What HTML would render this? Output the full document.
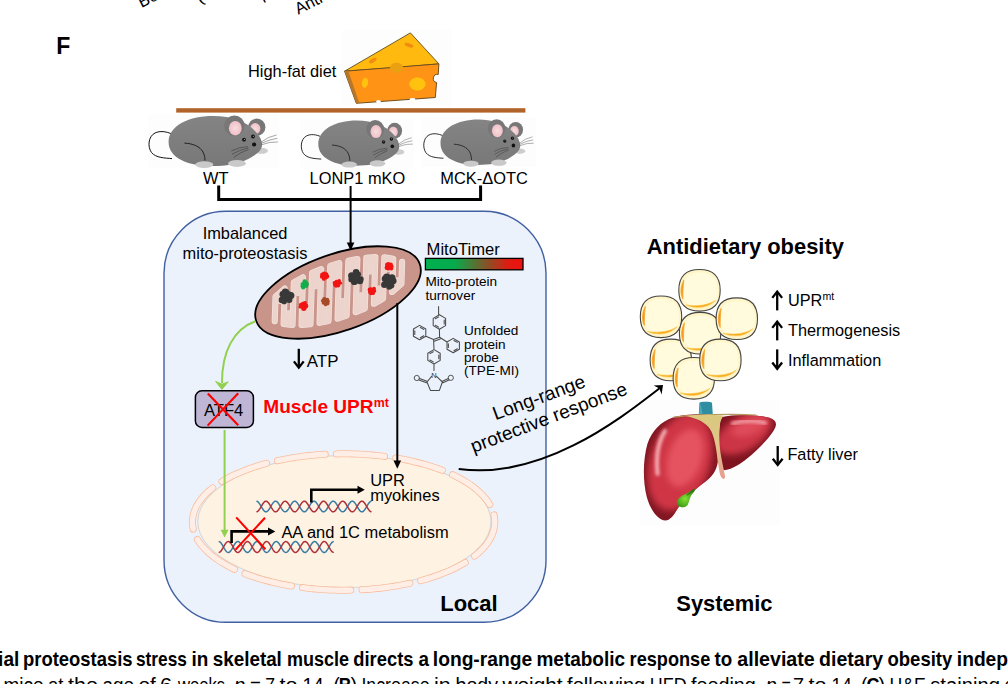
<!DOCTYPE html>
<html lang="en"><head><meta charset="utf-8"><title>Figure F</title>
<style>
html,body{margin:0;padding:0;background:#fff;}
body{width:1008px;height:684px;overflow:hidden;font-family:"Liberation Sans",sans-serif;}
svg{display:block;}
</style></head><body>
<svg width="1008" height="684" viewBox="0 0 1008 684">
<defs>
<linearGradient id="gbar" x1="0" x2="1" y1="0" y2="0">
  <stop offset="0" stop-color="#00b050"/><stop offset="0.3" stop-color="#06ab4c"/>
  <stop offset="0.6" stop-color="#7a5a2a"/><stop offset="0.85" stop-color="#e01b12"/><stop offset="1" stop-color="#ee1111"/>
</linearGradient>
<radialGradient id="gfat" cx="0.55" cy="0.45" r="0.6">
  <stop offset="0" stop-color="#fffbe0"/><stop offset="0.7" stop-color="#fff5c4"/><stop offset="1" stop-color="#ffedA0"/>
</radialGradient>
<radialGradient id="gliv" cx="0.4" cy="0.45" r="0.65">
  <stop offset="0" stop-color="#ee5c68"/><stop offset="0.55" stop-color="#d63f4c"/><stop offset="0.85" stop-color="#b52a38"/><stop offset="1" stop-color="#8e1c28"/>
</radialGradient>
<radialGradient id="gliv2" cx="0.45" cy="0.35" r="0.7">
  <stop offset="0" stop-color="#f06a72"/><stop offset="0.5" stop-color="#d63f4c"/><stop offset="0.85" stop-color="#a82432"/><stop offset="1" stop-color="#7c1420"/>
</radialGradient>
<linearGradient id="glig" x1="0" x2="0" y1="0" y2="1">
  <stop offset="0" stop-color="#d9c97e"/><stop offset="0.45" stop-color="#e2c58a"/><stop offset="1" stop-color="#e79c8e"/>
</linearGradient>
<radialGradient id="ggall" cx="0.45" cy="0.55" r="0.6">
  <stop offset="0" stop-color="#86e038"/><stop offset="0.6" stop-color="#4fae1c"/><stop offset="1" stop-color="#2f7f10"/>
</radialGradient>
<linearGradient id="gmouse" x1="0" x2="0" y1="0" y2="1">
  <stop offset="0" stop-color="#848484"/><stop offset="1" stop-color="#787878"/>
</linearGradient>
<radialGradient id="gear" cx="0.5" cy="0.5" r="0.6">
  <stop offset="0" stop-color="#f7dede"/><stop offset="1" stop-color="#eeb9c4"/>
</radialGradient>
<filter id="blur0" x="-20%" y="-30%" width="140%" height="160%"><feGaussianBlur stdDeviation="0.6"/></filter>
<filter id="blur1" x="-20%" y="-20%" width="140%" height="140%"><feGaussianBlur stdDeviation="1.2"/></filter>
<filter id="blur3" x="-40%" y="-40%" width="180%" height="180%"><feGaussianBlur stdDeviation="3.2"/></filter>
<filter id="blur2b" x="-60%" y="-60%" width="220%" height="220%"><feGaussianBlur stdDeviation="1.7"/></filter>
<filter id="blur2" x="-30%" y="-30%" width="160%" height="160%"><feGaussianBlur stdDeviation="2.5"/></filter>
</defs>
<g font-family="'Liberation Sans', sans-serif" font-size="16.5" fill="#000">
<text transform="translate(141.4,8.0) rotate(-27)" text-anchor="start">Bo</text>
<text transform="translate(199.8,3.4) rotate(-27)" text-anchor="start">(s)</text>
<text transform="translate(262,0.2) rotate(-27)" text-anchor="start">p</text>
<text transform="translate(298.2,14.8) rotate(-27)" text-anchor="start">Anti</text>
</g>
<text x="56.3" y="53.6" font-family="'Liberation Sans', sans-serif" font-weight="bold" font-size="23" fill="#000">F</text>
<g fill="#fdfdfd"><rect x="342" y="30" width="110" height="76"/><rect x="148" y="114" width="131" height="54"/><rect x="300" y="119" width="114" height="49"/><rect x="421" y="117" width="115" height="50"/><rect x="640" y="400" width="140" height="125"/></g>
<g id="cheese">
<path d="M344.6 71.2 L410.4 32.9 L438.9 63.9 L396 67.6 Z" fill="#ffb90f" stroke="#6e5a22" stroke-width="1" stroke-linejoin="round"/>
<path d="M344.6 71.2 L438.9 63.9 L438.2 74.5 A3.2 3.2 0 0 0 436.6 82.5 L435.3 97.5 L356.3 103.3 Z" fill="#ff9315" stroke="#6e5020" stroke-width="1" stroke-linejoin="round"/>
<path d="M344.6 71.2 L348.4 71 L359.2 102.8 L356.3 103.3 Z" fill="#b8772a"/>
<ellipse cx="372.8" cy="60.6" rx="4.2" ry="2" transform="rotate(-32 372.8 60.6)" fill="#f08c10"/>
<ellipse cx="409" cy="45.2" rx="4.6" ry="1.9" transform="rotate(18 409 45.2)" fill="#f08c10"/>
<ellipse cx="396.6" cy="67.8" rx="6.6" ry="5" fill="#e9a012"/>
<ellipse cx="365" cy="82.7" rx="3.1" ry="5" transform="rotate(8 365 82.7)" fill="#ffc20e"/>
<ellipse cx="417.4" cy="84" rx="8.2" ry="6.5" fill="#ffc20e"/>
<ellipse cx="378.5" cy="101.6" rx="2.4" ry="1.6" fill="#fff"/>
<ellipse cx="412.5" cy="99.3" rx="3" ry="1.3" fill="#fff"/>
</g>
<text x="248" y="77.2" font-family="'Liberation Sans', sans-serif" font-size="16.4" fill="#000">High-fat diet</text>
<rect x="176.2" y="108.2" width="349.2" height="4.4" fill="#b0642a"/>
<g transform="">
<path d="M171.5 133.8 C166 131.5 160 130.6 155 133 C148 136.5 147.5 147 151.5 152.5 C156 158 165 158 172 158.6" fill="none" stroke="#111" stroke-width="1"/>
<ellipse cx="261.5" cy="150.8" rx="6.5" ry="3" fill="#cdcdcd" filter="url(#blur0)"/>
<circle cx="256.8" cy="127.2" r="8.6" fill="#777"/>
<ellipse cx="255.2" cy="128.6" rx="5.2" ry="5.6" fill="url(#gear)"/>
<path d="M168.6 142 C168.6 126 188 116 213 116 C232 116 247 122 255 131 C260 136 262.5 141 262 146 C261 152 254 156 246 160 C238 164 226 166 212 166 C188 166 168.6 158 168.6 142 Z" fill="url(#gmouse)"/>
<circle cx="234.4" cy="125.8" r="10.3" fill="#777"/>
<ellipse cx="235.3" cy="128.2" rx="6.4" ry="7.2" fill="url(#gear)"/>
<path d="M184.4 143.1 C193 143.5 200 146.5 203 152 C204.5 155 205 158 205 160.6" fill="none" stroke="#222" stroke-width="1"/>
<ellipse cx="204.3" cy="164.6" rx="9" ry="3.3" fill="#c9c9c9" filter="url(#blur0)"/>
<ellipse cx="237" cy="163.4" rx="9" ry="3.5" fill="#c9c9c9" filter="url(#blur0)"/>
<circle cx="244" cy="139.7" r="1.9" fill="#111"/><circle cx="244.3" cy="139.4" r="0.5" fill="#ddd"/>
<circle cx="253" cy="136.5" r="1.9" fill="#111"/><circle cx="253.3" cy="136.2" r="0.5" fill="#ddd"/>
<circle cx="254.1" cy="144.5" r="2.1" fill="#111"/>
<g fill="none" stroke="#6a6a6a" stroke-width="0.6">
<path d="M260.6 142.5 Q268 136.5 276.5 135"/><path d="M261 143.5 Q269 139.5 277.3 138.3"/><path d="M261.3 144.8 Q270 141.5 277.8 142"/>
</g>
<g fill="none" stroke="#4a4a4a" stroke-width="0.75">
<path d="M248 146.6 Q239 147 231.3 151"/><path d="M248.3 148 Q239 150 232 154.2"/><path d="M248.6 149.4 Q240 152.5 233.6 157.4"/>
</g>
</g>
<g transform="translate(172.29,15.40) scale(0.866,0.906)">
<path d="M171.5 133.8 C166 131.5 160 130.6 155 133 C148 136.5 147.5 147 151.5 152.5 C156 158 165 158 172 158.6" fill="none" stroke="#111" stroke-width="1"/>
<ellipse cx="261.5" cy="150.8" rx="6.5" ry="3" fill="#cdcdcd" filter="url(#blur0)"/>
<circle cx="256.8" cy="127.2" r="8.6" fill="#777"/>
<ellipse cx="255.2" cy="128.6" rx="5.2" ry="5.6" fill="url(#gear)"/>
<path d="M168.6 142 C168.6 126 188 116 213 116 C232 116 247 122 255 131 C260 136 262.5 141 262 146 C261 152 254 156 246 160 C238 164 226 166 212 166 C188 166 168.6 158 168.6 142 Z" fill="url(#gmouse)"/>
<circle cx="234.4" cy="125.8" r="10.3" fill="#777"/>
<ellipse cx="235.3" cy="128.2" rx="6.4" ry="7.2" fill="url(#gear)"/>
<path d="M184.4 143.1 C193 143.5 200 146.5 203 152 C204.5 155 205 158 205 160.6" fill="none" stroke="#222" stroke-width="1"/>
<ellipse cx="204.3" cy="164.6" rx="9" ry="3.3" fill="#c9c9c9" filter="url(#blur0)"/>
<ellipse cx="237" cy="163.4" rx="9" ry="3.5" fill="#c9c9c9" filter="url(#blur0)"/>
<circle cx="244" cy="139.7" r="1.9" fill="#111"/><circle cx="244.3" cy="139.4" r="0.5" fill="#ddd"/>
<circle cx="253" cy="136.5" r="1.9" fill="#111"/><circle cx="253.3" cy="136.2" r="0.5" fill="#ddd"/>
<circle cx="254.1" cy="144.5" r="2.1" fill="#111"/>
<g fill="none" stroke="#6a6a6a" stroke-width="0.6">
<path d="M260.6 142.5 Q268 136.5 276.5 135"/><path d="M261 143.5 Q269 139.5 277.3 138.3"/><path d="M261.3 144.8 Q270 141.5 277.8 142"/>
</g>
<g fill="none" stroke="#4a4a4a" stroke-width="0.75">
<path d="M248 146.6 Q239 147 231.3 151"/><path d="M248.3 148 Q239 150 232 154.2"/><path d="M248.6 149.4 Q240 152.5 233.6 157.4"/>
</g>
</g>
<g transform="translate(296.68,14.27) scale(0.853,0.908)">
<path d="M171.5 133.8 C166 131.5 160 130.6 155 133 C148 136.5 147.5 147 151.5 152.5 C156 158 165 158 172 158.6" fill="none" stroke="#111" stroke-width="1"/>
<ellipse cx="261.5" cy="150.8" rx="6.5" ry="3" fill="#cdcdcd" filter="url(#blur0)"/>
<circle cx="256.8" cy="127.2" r="8.6" fill="#777"/>
<ellipse cx="255.2" cy="128.6" rx="5.2" ry="5.6" fill="url(#gear)"/>
<path d="M168.6 142 C168.6 126 188 116 213 116 C232 116 247 122 255 131 C260 136 262.5 141 262 146 C261 152 254 156 246 160 C238 164 226 166 212 166 C188 166 168.6 158 168.6 142 Z" fill="url(#gmouse)"/>
<circle cx="234.4" cy="125.8" r="10.3" fill="#777"/>
<ellipse cx="235.3" cy="128.2" rx="6.4" ry="7.2" fill="url(#gear)"/>
<path d="M184.4 143.1 C193 143.5 200 146.5 203 152 C204.5 155 205 158 205 160.6" fill="none" stroke="#222" stroke-width="1"/>
<ellipse cx="204.3" cy="164.6" rx="9" ry="3.3" fill="#c9c9c9" filter="url(#blur0)"/>
<ellipse cx="237" cy="163.4" rx="9" ry="3.5" fill="#c9c9c9" filter="url(#blur0)"/>
<circle cx="244" cy="139.7" r="1.9" fill="#111"/><circle cx="244.3" cy="139.4" r="0.5" fill="#ddd"/>
<circle cx="253" cy="136.5" r="1.9" fill="#111"/><circle cx="253.3" cy="136.2" r="0.5" fill="#ddd"/>
<circle cx="254.1" cy="144.5" r="2.1" fill="#111"/>
<g fill="none" stroke="#6a6a6a" stroke-width="0.6">
<path d="M260.6 142.5 Q268 136.5 276.5 135"/><path d="M261 143.5 Q269 139.5 277.3 138.3"/><path d="M261.3 144.8 Q270 141.5 277.8 142"/>
</g>
<g fill="none" stroke="#4a4a4a" stroke-width="0.75">
<path d="M248 146.6 Q239 147 231.3 151"/><path d="M248.3 148 Q239 150 232 154.2"/><path d="M248.6 149.4 Q240 152.5 233.6 157.4"/>
</g>
</g>
<g font-family="'Liberation Sans', sans-serif" font-size="16.4" fill="#000">
<text x="203" y="184">WT</text>
<text x="309.6" y="184">LONP1 mKO</text>
<text x="440.3" y="184">MCK-ΔOTC</text>
</g>
<rect x="164" y="211.3" width="382" height="411" rx="62" ry="62" fill="#ecf2fc" stroke="#4060a2" stroke-width="1.4"/>
<path d="M218.7 185.6 V199.6 H480.6 V185.6" fill="none" stroke="#000" stroke-width="3" stroke-linejoin="miter"/>
<path d="M350.6 186 V245" fill="none" stroke="#000" stroke-width="2"/>
<path d="M346.8 242.6 L350.6 250.8 L354.4 242.6 Z" fill="#000"/>
<ellipse cx="344.4" cy="521.6" rx="146.6" ry="66.0" fill="#fef3e2" stroke="#d9d9d9" stroke-width="1.2"/>
<g fill="none" stroke-linecap="round" stroke-linejoin="round">
<path d="M494.0 514.9 L494.6 518.8 L494.8 522.9 L494.4 526.9 L493.5 530.8 L492.2 534.6 L490.5 538.2 L488.4 541.7 L486.0 544.9 L483.4 548.0 L480.6 550.9 L477.6 553.6 L474.5 556.1" stroke="#f9be9e" stroke-width="7"/>
<path d="M465.3 562.5 L461.8 564.5 L458.3 566.4 L454.7 568.3 L451.1 570.0 L447.4 571.6 L443.6 573.1 L439.9 574.6 L436.1 575.9 L432.3 577.2 L428.5 578.4 L424.6 579.6 L420.7 580.7" stroke="#f9be9e" stroke-width="7"/>
<path d="M409.8 583.3 L405.9 584.1 L401.9 584.9 L398.0 585.6 L394.0 586.3 L390.0 586.9 L386.0 587.5 L382.0 588.0 L378.0 588.4 L374.0 588.8 L370.0 589.2 L366.0 589.4 L362.0 589.7" stroke="#f9be9e" stroke-width="7"/>
<path d="M350.8 590.1 L346.8 590.2 L342.7 590.2 L338.7 590.2 L334.7 590.1 L330.7 590.0 L326.7 589.8 L322.6 589.5 L318.6 589.3 L314.6 588.9 L310.6 588.6 L306.6 588.1 L302.6 587.6" stroke="#f9be9e" stroke-width="7"/>
<path d="M291.5 586.0 L287.5 585.3 L283.6 584.6 L279.6 583.8 L275.7 582.9 L271.8 582.0 L267.9 581.0 L264.0 580.0 L260.1 578.9 L256.3 577.7 L252.5 576.4 L248.7 575.1 L244.9 573.7" stroke="#f9be9e" stroke-width="7"/>
<path d="M234.6 569.3 L231.0 567.5 L227.4 565.6 L223.9 563.7 L220.5 561.6 L217.1 559.4 L213.8 557.0 L210.7 554.5 L207.7 551.8 L204.8 549.0 L202.1 546.0 L199.6 542.8 L197.4 539.5" stroke="#f9be9e" stroke-width="7"/>
<path d="M193.2 529.1 L192.6 525.2 L192.4 521.1 L192.8 517.1 L193.7 513.2 L195.0 509.4 L196.7 505.8 L198.8 502.3 L201.2 499.1 L203.8 496.0 L206.6 493.1 L209.6 490.4 L212.7 487.9" stroke="#f9be9e" stroke-width="7"/>
<path d="M221.9 481.5 L225.4 479.5 L228.9 477.6 L232.5 475.7 L236.1 474.0 L239.8 472.4 L243.6 470.9 L247.3 469.4 L251.1 468.1 L254.9 466.8 L258.7 465.6 L262.6 464.4 L266.5 463.3" stroke="#f9be9e" stroke-width="7"/>
<path d="M277.4 460.7 L281.3 459.9 L285.3 459.1 L289.2 458.4 L293.2 457.7 L297.2 457.1 L301.2 456.5 L305.2 456.0 L309.2 455.6 L313.2 455.2 L317.2 454.8 L321.2 454.6 L325.2 454.3" stroke="#f9be9e" stroke-width="7"/>
<path d="M336.4 453.9 L340.4 453.8 L344.5 453.8 L348.5 453.8 L352.5 453.9 L356.5 454.0 L360.5 454.2 L364.6 454.5 L368.6 454.7 L372.6 455.1 L376.6 455.4 L380.6 455.9 L384.6 456.4" stroke="#f9be9e" stroke-width="7"/>
<path d="M395.7 458.0 L399.7 458.7 L403.6 459.4 L407.6 460.2 L411.5 461.1 L415.4 462.0 L419.3 463.0 L423.2 464.0 L427.1 465.1 L430.9 466.3 L434.7 467.6 L438.5 468.9 L442.3 470.3" stroke="#f9be9e" stroke-width="7"/>
<path d="M452.6 474.7 L456.2 476.5 L459.8 478.4 L463.3 480.3 L466.7 482.4 L470.1 484.6 L473.4 487.0 L476.5 489.5 L479.5 492.2 L482.4 495.0 L485.1 498.0 L487.6 501.2 L489.8 504.5" stroke="#f9be9e" stroke-width="7"/>
<path d="M494.0 514.9 L494.6 518.8 L494.8 522.9 L494.4 526.9 L493.5 530.8 L492.2 534.6 L490.5 538.2 L488.4 541.7 L486.0 544.9 L483.4 548.0 L480.6 550.9 L477.6 553.6 L474.5 556.1" stroke="#feeee6" stroke-width="5.4"/>
<path d="M465.3 562.5 L461.8 564.5 L458.3 566.4 L454.7 568.3 L451.1 570.0 L447.4 571.6 L443.6 573.1 L439.9 574.6 L436.1 575.9 L432.3 577.2 L428.5 578.4 L424.6 579.6 L420.7 580.7" stroke="#feeee6" stroke-width="5.4"/>
<path d="M409.8 583.3 L405.9 584.1 L401.9 584.9 L398.0 585.6 L394.0 586.3 L390.0 586.9 L386.0 587.5 L382.0 588.0 L378.0 588.4 L374.0 588.8 L370.0 589.2 L366.0 589.4 L362.0 589.7" stroke="#feeee6" stroke-width="5.4"/>
<path d="M350.8 590.1 L346.8 590.2 L342.7 590.2 L338.7 590.2 L334.7 590.1 L330.7 590.0 L326.7 589.8 L322.6 589.5 L318.6 589.3 L314.6 588.9 L310.6 588.6 L306.6 588.1 L302.6 587.6" stroke="#feeee6" stroke-width="5.4"/>
<path d="M291.5 586.0 L287.5 585.3 L283.6 584.6 L279.6 583.8 L275.7 582.9 L271.8 582.0 L267.9 581.0 L264.0 580.0 L260.1 578.9 L256.3 577.7 L252.5 576.4 L248.7 575.1 L244.9 573.7" stroke="#feeee6" stroke-width="5.4"/>
<path d="M234.6 569.3 L231.0 567.5 L227.4 565.6 L223.9 563.7 L220.5 561.6 L217.1 559.4 L213.8 557.0 L210.7 554.5 L207.7 551.8 L204.8 549.0 L202.1 546.0 L199.6 542.8 L197.4 539.5" stroke="#feeee6" stroke-width="5.4"/>
<path d="M193.2 529.1 L192.6 525.2 L192.4 521.1 L192.8 517.1 L193.7 513.2 L195.0 509.4 L196.7 505.8 L198.8 502.3 L201.2 499.1 L203.8 496.0 L206.6 493.1 L209.6 490.4 L212.7 487.9" stroke="#feeee6" stroke-width="5.4"/>
<path d="M221.9 481.5 L225.4 479.5 L228.9 477.6 L232.5 475.7 L236.1 474.0 L239.8 472.4 L243.6 470.9 L247.3 469.4 L251.1 468.1 L254.9 466.8 L258.7 465.6 L262.6 464.4 L266.5 463.3" stroke="#feeee6" stroke-width="5.4"/>
<path d="M277.4 460.7 L281.3 459.9 L285.3 459.1 L289.2 458.4 L293.2 457.7 L297.2 457.1 L301.2 456.5 L305.2 456.0 L309.2 455.6 L313.2 455.2 L317.2 454.8 L321.2 454.6 L325.2 454.3" stroke="#feeee6" stroke-width="5.4"/>
<path d="M336.4 453.9 L340.4 453.8 L344.5 453.8 L348.5 453.8 L352.5 453.9 L356.5 454.0 L360.5 454.2 L364.6 454.5 L368.6 454.7 L372.6 455.1 L376.6 455.4 L380.6 455.9 L384.6 456.4" stroke="#feeee6" stroke-width="5.4"/>
<path d="M395.7 458.0 L399.7 458.7 L403.6 459.4 L407.6 460.2 L411.5 461.1 L415.4 462.0 L419.3 463.0 L423.2 464.0 L427.1 465.1 L430.9 466.3 L434.7 467.6 L438.5 468.9 L442.3 470.3" stroke="#feeee6" stroke-width="5.4"/>
<path d="M452.6 474.7 L456.2 476.5 L459.8 478.4 L463.3 480.3 L466.7 482.4 L470.1 484.6 L473.4 487.0 L476.5 489.5 L479.5 492.2 L482.4 495.0 L485.1 498.0 L487.6 501.2 L489.8 504.5" stroke="#feeee6" stroke-width="5.4"/>
</g>
<g transform="translate(338 292.5) rotate(-19.2)">
<ellipse cx="0" cy="0" rx="86.6" ry="38.5" fill="#c9958b" stroke="#000" stroke-width="1.8"/>
<path d="M-69.2 6.3 L-60.3 -16.8 L-49.0 -21.2 L-61.7 11.8 L-53.6 15.7 L-38.4 -24.0 L-28.1 -25.9 L-45.1 18.6 L-36.4 20.9 L-18.0 -27.0 L-8.2 -27.6 L-27.4 22.6 L-18.3 23.8 L1.5 -27.7 L10.9 -27.4 L-9.0 24.5 L0.5 24.7 L20.2 -26.5 L29.3 -25.3 L10.2 24.5 L20.1 23.8 L38.2 -23.5 L46.9 -21.1 L30.2 22.5 L40.6 20.5 L55.3 -18.0 L63.3 -13.8 L51.3 17.4 L62.8 12.6 L70.6 -7.8" fill="none" stroke="#f3e4df" stroke-width="6.1" stroke-linejoin="round" stroke-linecap="round"/>
<path d="M-54.6 -19.3 L-57.9 -10.7 M-57.7 13.9 L-53.5 2.9 M-33.2 -25.0 L-38.0 -12.3 M-40.8 19.8 L-35.4 5.9 M-13.1 -27.4 L-18.7 -12.6 M-22.9 23.2 L-17.0 7.9 M6.2 -27.6 L0.3 -12.1 M-4.2 24.7 L1.7 9.2 M24.8 -26.0 L19.0 -10.8 M15.1 24.3 L20.7 9.7 M42.6 -22.3 L37.3 -8.7 M35.3 21.6 L40.1 9.2 M59.4 -16.0 L55.3 -5.5 M56.9 15.3 L60.0 7.4" fill="none" stroke="#f3e4df" stroke-width="5.2" stroke-linecap="round"/>
<path d="M-69.2 6.3 L-60.3 -16.8 L-49.0 -21.2 L-61.7 11.8 L-53.6 15.7 L-38.4 -24.0 L-28.1 -25.9 L-45.1 18.6 L-36.4 20.9 L-18.0 -27.0 L-8.2 -27.6 L-27.4 22.6 L-18.3 23.8 L1.5 -27.7 L10.9 -27.4 L-9.0 24.5 L0.5 24.7 L20.2 -26.5 L29.3 -25.3 L10.2 24.5 L20.1 23.8 L38.2 -23.5 L46.9 -21.1 L30.2 22.5 L40.6 20.5 L55.3 -18.0 L63.3 -13.8 L51.3 17.4 L62.8 12.6 L70.6 -7.8" fill="none" stroke="#ecd4cd" stroke-width="4.9" stroke-linejoin="round" stroke-linecap="round"/>
<path d="M-54.6 -19.3 L-57.9 -10.7 M-57.7 13.9 L-53.5 2.9 M-33.2 -25.0 L-38.0 -12.3 M-40.8 19.8 L-35.4 5.9 M-13.1 -27.4 L-18.7 -12.6 M-22.9 23.2 L-17.0 7.9 M6.2 -27.6 L0.3 -12.1 M-4.2 24.7 L1.7 9.2 M24.8 -26.0 L19.0 -10.8 M15.1 24.3 L20.7 9.7 M42.6 -22.3 L37.3 -8.7 M35.3 21.6 L40.1 9.2 M59.4 -16.0 L55.3 -5.5 M56.9 15.3 L60.0 7.4" fill="none" stroke="#ecd4cd" stroke-width="4.6" stroke-linecap="round"/>
</g>
<g fill="#383838"><circle cx="290.9" cy="295.4" r="3.5"/><circle cx="289.2" cy="299.7" r="3.2"/><circle cx="284.2" cy="301.4" r="2.8"/><circle cx="281.9" cy="300.0" r="3.2"/><circle cx="282.7" cy="294.3" r="3.2"/><circle cx="285.4" cy="292.3" r="3.7"/><circle cx="288.9" cy="294.1" r="2.8"/><circle cx="285.8" cy="296.5" r="4.6"/></g>
<g fill="#383838"><circle cx="360.9" cy="279.1" r="2.8"/><circle cx="359.8" cy="280.7" r="3.5"/><circle cx="354.3" cy="281.7" r="3.4"/><circle cx="351.3" cy="279.4" r="2.9"/><circle cx="351.6" cy="275.8" r="3.5"/><circle cx="356.1" cy="272.2" r="3.3"/><circle cx="358.2" cy="274.2" r="2.8"/><circle cx="355.7" cy="277.6" r="4.6"/></g>
<g fill="#383838"><circle cx="393.5" cy="280.9" r="3.1"/><circle cx="391.6" cy="285.6" r="2.8"/><circle cx="389.2" cy="286.8" r="3.0"/><circle cx="384.3" cy="284.7" r="3.2"/><circle cx="385.1" cy="278.8" r="3.4"/><circle cx="386.8" cy="277.2" r="3.7"/><circle cx="392.0" cy="277.7" r="3.5"/><circle cx="388.8" cy="281.6" r="4.6"/></g>
<g fill="#14ad4c"><circle cx="307.0" cy="284.2" r="1.9"/><circle cx="306.4" cy="286.1" r="1.9"/><circle cx="303.2" cy="287.4" r="2.1"/><circle cx="302.3" cy="286.2" r="1.8"/><circle cx="302.3" cy="284.0" r="1.8"/><circle cx="304.7" cy="281.5" r="2.2"/><circle cx="306.5" cy="283.0" r="1.9"/><circle cx="304.6" cy="284.6" r="2.8"/></g>
<g fill="#f21313"><circle cx="306.2" cy="306.0" r="2.2"/><circle cx="304.4" cy="308.6" r="2.2"/><circle cx="303.4" cy="308.6" r="2.3"/><circle cx="300.2" cy="306.9" r="1.7"/><circle cx="300.9" cy="304.7" r="2.0"/><circle cx="302.8" cy="303.5" r="1.8"/><circle cx="304.9" cy="303.0" r="2.1"/><circle cx="303.2" cy="305.8" r="2.8"/></g>
<g fill="#f21313"><circle cx="327.4" cy="276.5" r="1.9"/><circle cx="326.0" cy="277.5" r="2.0"/><circle cx="323.8" cy="278.9" r="1.9"/><circle cx="322.0" cy="276.7" r="2.1"/><circle cx="322.2" cy="274.5" r="2.0"/><circle cx="324.1" cy="273.6" r="2.0"/><circle cx="326.3" cy="274.4" r="2.1"/><circle cx="324.4" cy="276.0" r="2.7"/></g>
<g fill="#a84a2a"><circle cx="327.8" cy="301.6" r="2.0"/><circle cx="327.6" cy="303.6" r="1.9"/><circle cx="325.5" cy="304.7" r="1.6"/><circle cx="323.4" cy="303.0" r="1.7"/><circle cx="322.6" cy="300.7" r="1.7"/><circle cx="324.3" cy="299.2" r="2.2"/><circle cx="327.1" cy="299.9" r="2.2"/><circle cx="325.4" cy="301.9" r="2.7"/></g>
<g fill="#f21313"><circle cx="340.5" cy="283.1" r="1.7"/><circle cx="338.5" cy="285.6" r="1.8"/><circle cx="336.1" cy="285.7" r="2.0"/><circle cx="334.9" cy="284.8" r="1.9"/><circle cx="334.3" cy="282.8" r="1.7"/><circle cx="336.4" cy="281.5" r="1.8"/><circle cx="339.1" cy="281.0" r="1.9"/><circle cx="337.3" cy="283.6" r="2.7"/></g>
<g fill="#f21313"><circle cx="374.6" cy="291.1" r="1.7"/><circle cx="373.0" cy="293.2" r="1.9"/><circle cx="371.0" cy="293.3" r="2.0"/><circle cx="369.9" cy="292.0" r="1.9"/><circle cx="369.7" cy="289.7" r="2.1"/><circle cx="371.0" cy="288.9" r="1.7"/><circle cx="374.0" cy="288.7" r="2.0"/><circle cx="372.0" cy="291.2" r="2.7"/></g>
<g fill="#f21313"><circle cx="391.6" cy="266.5" r="2.0"/><circle cx="391.2" cy="268.4" r="2.1"/><circle cx="388.2" cy="268.7" r="1.9"/><circle cx="386.8" cy="267.7" r="2.2"/><circle cx="387.2" cy="264.8" r="2.2"/><circle cx="388.5" cy="263.8" r="1.8"/><circle cx="390.8" cy="264.5" r="2.1"/><circle cx="388.9" cy="266.4" r="2.7"/></g>
<path d="M255.4 321.2 C233.5 329 221.8 352 222 383" fill="none" stroke="#92d050" stroke-width="2"/>
<path d="M215.6 381.4 L221.9 389.4 L228.3 381.8 L222 384.2 Z" fill="#92d050" stroke="#92d050" stroke-width="1" stroke-linejoin="miter"/>
<path d="M224.6 430 V531" fill="none" stroke="#92d050" stroke-width="2"/>
<path d="M220.6 529.8 L224.6 537.4 L228.6 529.8 Z" fill="#92d050"/>
<rect x="195.4" y="390.8" width="58" height="36.6" rx="6.5" ry="6.5" fill="#bfb5d5" stroke="#000" stroke-width="1.5"/>
<text x="204" y="416" font-family="'Liberation Sans', sans-serif" font-size="16.6" fill="#000">ATF4</text>
<path d="M207.8 393.5 L238.2 425.2 M238.2 393.2 L207.6 425.6" stroke="#ff0000" stroke-width="2.1" fill="none"/>
<text x="263.3" y="413" font-family="'Liberation Sans', sans-serif" font-weight="bold" font-size="19.1" fill="#ff0000">Muscle UPR<tspan font-size="12.4" dy="-6.5">mt</tspan></text>
<path d="M298.8 348.8 V366.9" stroke="#000" stroke-width="2.3" fill="none"/><path d="M293.90000000000003 361.4 L298.8 367.7 L303.7 361.4" stroke="#000" stroke-width="2.3" fill="none" stroke-linejoin="miter"/>
<text x="306.8" y="367.2" font-family="'Liberation Sans', sans-serif" font-size="16.9" fill="#000">ATP</text>
<path d="M397.3 303 V463" fill="none" stroke="#000" stroke-width="2"/>
<path d="M393.5 460.6 L397.3 468.8 L401.1 460.6 Z" fill="#000"/>
<g font-family="'Liberation Sans', sans-serif" font-size="16.4" fill="#000">
<text x="245" y="239.4" text-anchor="middle">Imbalanced</text>
<text x="245" y="258.7" text-anchor="middle">mito-proteostasis</text>
</g>
<text x="426.6" y="254.8" font-family="'Liberation Sans', sans-serif" font-size="16.6" fill="#000">MitoTimer</text>
<rect x="425.4" y="258.4" width="97.6" height="11.4" fill="url(#gbar)" stroke="#000" stroke-width="1.3"/>
<g font-family="'Liberation Sans', sans-serif" font-size="13.6" fill="#000">
<text x="425.4" y="286">Mito-protein</text><text x="425.4" y="299.6">turnover</text>
<text x="464" y="334.8">Unfolded</text><text x="464" y="348.6">protein</text><text x="464" y="362.3">probe</text><text x="464" y="375.3">(TPE-MI)</text>
</g>
<path d="M439.4 329.2 L433.2 325.6 L433.2 318.4 L439.4 314.8 L445.6 318.4 L445.6 325.6 Z M438.7 327.1 L435.3 325.2 M435.3 318.8 L438.7 316.9 M444.2 320.1 L444.2 323.9 M425.8 336.2 L419.6 339.8 L413.4 336.2 L413.4 329.0 L419.6 325.4 L425.8 329.0 Z M423.7 335.8 L420.3 337.7 M414.8 334.5 L414.8 330.7 M420.3 327.5 L423.7 329.4 M459.4 349.2 L453.2 352.8 L447.0 349.2 L447.0 342.0 L453.2 338.4 L459.4 342.0 Z M457.3 348.8 L453.9 350.7 M448.4 347.5 L448.4 343.7 M453.9 340.5 L457.3 342.4 M434.0 364.0 L427.8 360.4 L427.8 353.2 L434.0 349.6 L440.2 353.2 L440.2 360.4 Z M433.3 361.9 L429.9 360.0 M429.9 353.6 L433.3 351.7 M438.8 354.9 L438.8 358.7 M438.6 306.5 V314.8 M439.4 329.2 L439.6 337.2 M425.8 336.2 L433.6 339.6 M433.6 339.6 L439.6 337.2 M434.2 341.3 L440.2 338.9 M439.6 337.2 L447 342 M433.6 339.6 L434 349.6 M434 364 V370.5 M431.6 376.4 L427 382 L430.4 390.4 L439.4 390.4 L442.4 382 L436.6 376.4 M427 381.2 L419.6 378.4 M426.4 382.8 L419 380 M442.4 381.2 L448.4 378.4 M443 382.8 L449 380" fill="none" stroke="#4a4a4a" stroke-width="1.05" stroke-linecap="round" stroke-linejoin="round"/>
<circle cx="416.8" cy="378" r="2.6" fill="none" stroke="#444" stroke-width="0.9"/>
<circle cx="450.8" cy="377.8" r="2.6" fill="none" stroke="#444" stroke-width="0.9"/>
<text x="434" y="377.6" text-anchor="middle" font-family="'Liberation Sans', sans-serif" font-size="7.5" fill="#333">N</text>
<path d="M256.4 501.2 L256.9 501.3 L257.4 501.5 L257.9 501.8 L258.4 502.3 L258.9 502.9 L259.4 503.6 L259.9 504.3 L260.4 505.1 L260.9 506.0 L261.4 506.9 L261.9 507.7 L262.4 508.5 L262.9 509.3 L263.4 510.0 L263.9 510.6 L264.4 511.1 L264.9 511.5 L265.4 511.7 L265.9 511.8 L266.4 511.8 L266.9 511.6 L267.4 511.2 L267.9 510.8 L268.4 510.2 L268.9 509.6 L269.4 508.8 L269.9 508.0 L270.4 507.1 L270.9 506.3 L271.4 505.4 L271.9 504.6 L272.4 503.8 L272.9 503.1 L273.4 502.5 L273.9 502.0 L274.4 501.6 L274.9 501.3 L275.4 501.2 L275.9 501.2 L276.4 501.4 L276.9 501.7 L277.4 502.1 L277.9 502.7 L278.4 503.3 L278.9 504.1 L279.4 504.9 L279.9 505.7 L280.4 506.6 L280.9 507.4 L281.4 508.3 L281.9 509.1 L282.4 509.8 L282.9 510.4 L283.4 511.0 L283.9 511.4 L284.4 511.6 L284.9 511.8 L285.4 511.8 L285.9 511.6 L286.4 511.4 L286.9 510.9 L287.4 510.4 L287.9 509.8 L288.4 509.1 L288.9 508.3 L289.4 507.4 L289.9 506.6 L290.4 505.7 L290.9 504.9 L291.4 504.1 L291.9 503.3 L292.4 502.7 L292.9 502.1 L293.4 501.7 L293.9 501.4 L294.4 501.2 L294.9 501.2 L295.4 501.3 L295.9 501.6 L296.4 502.0 L296.9 502.5 L297.4 503.1 L297.9 503.8 L298.4 504.6 L298.9 505.4 L299.4 506.3 L299.9 507.2 L300.4 508.0 L300.9 508.8 L301.4 509.6 L301.9 510.2 L302.4 510.8 L302.9 511.2 L303.4 511.6 L303.9 511.8 L304.4 511.8 L304.9 511.7 L305.4 511.5 L305.9 511.1 L306.4 510.6 L306.9 510.0 L307.4 509.3 L307.9 508.5 L308.4 507.7 L308.9 506.8 L309.4 506.0 L309.9 505.1 L310.4 504.3 L310.9 503.5 L311.4 502.9 L311.9 502.3 L312.4 501.8 L312.9 501.5 L313.4 501.3 L313.9 501.2 L314.5 501.3 L315.0 501.5 L315.5 501.8 L316.0 502.3 L316.5 502.9 L317.0 503.6 L317.5 504.3 L318.0 505.2 L318.5 506.0 L319.0 506.9 L319.5 507.7 L320.0 508.6 L320.5 509.3 L321.0 510.0 L321.5 510.6 L322.0 511.1 L322.5 511.5 L323.0 511.7 L323.5 511.8 L324.0 511.7 L324.5 511.6 L325.0 511.2 L325.5 510.8 L326.0 510.2 L326.5 509.5 L327.0 508.8 L327.5 508.0 L328.0 507.1 L328.5 506.3 L329.0 505.4 L329.5 504.6 L330.0 503.8 L330.5 503.1 L331.0 502.5 L331.5 502.0 L332.0 501.6 L332.5 501.3 L333.0 501.2 L333.5 501.2 L334.0 501.4 L334.5 501.7 L335.0 502.1 L335.5 502.7 L336.0 503.3 L336.5 504.1 L337.0 504.9 L337.5 505.7 L338.0 506.6 L338.5 507.5 L339.0 508.3 L339.5 509.1 L340.0 509.8 L340.5 510.4 L341.0 511.0 L341.5 511.4 L342.0 511.6 L342.5 511.8 L343.0 511.8 L343.5 511.6 L344.0 511.4 L344.5 510.9 L345.0 510.4 L345.5 509.8 L346.0 509.0 L346.5 508.2 L347.0 507.4 L347.5 506.5 L348.0 505.7 L348.5 504.8 L349.0 504.0 L349.5 503.3 L350.0 502.7 L350.5 502.1 L351.0 501.7 L351.5 501.4 L352.0 501.2 L352.5 501.2 L353.0 501.3 L353.5 501.6 L354.0 502.0 L354.5 502.5 L355.0 503.1 L355.5 503.8 L356.0 504.6 L356.5 505.5 L357.0 506.3 L357.5 507.2 L358.0 508.0 L358.5 508.8 L359.0 509.6 L359.5 510.2 L360.0 510.8 L360.5 511.3 L361.0 511.6 L361.5 511.8 L362.0 511.8 L362.5 511.7 L363.0 511.5 L363.5 511.1 L364.0 510.6 L364.5 510.0 L365.0 509.3 L365.5 508.5 L366.0 507.7 L366.5 506.8 L367.0 506.0 L367.5 505.1 L368.0 504.3 L368.5 503.5 L369.0 502.9 L369.5 502.3 L370.0 501.8 L370.5 501.5 L371.0 501.3 L371.5 501.2" fill="none" stroke="#3a7ca5" stroke-width="1.5"/><path d="M256.4 511.8 L256.9 511.7 L257.4 511.5 L257.9 511.2 L258.4 510.7 L258.9 510.1 L259.4 509.4 L259.9 508.7 L260.4 507.9 L260.9 507.0 L261.4 506.1 L261.9 505.3 L262.4 504.5 L262.9 503.7 L263.4 503.0 L263.9 502.4 L264.4 501.9 L264.9 501.5 L265.4 501.3 L265.9 501.2 L266.4 501.2 L266.9 501.4 L267.4 501.8 L267.9 502.2 L268.4 502.8 L268.9 503.4 L269.4 504.2 L269.9 505.0 L270.4 505.9 L270.9 506.7 L271.4 507.6 L271.9 508.4 L272.4 509.2 L272.9 509.9 L273.4 510.5 L273.9 511.0 L274.4 511.4 L274.9 511.7 L275.4 511.8 L275.9 511.8 L276.4 511.6 L276.9 511.3 L277.4 510.9 L277.9 510.3 L278.4 509.7 L278.9 508.9 L279.4 508.1 L279.9 507.3 L280.4 506.4 L280.9 505.6 L281.4 504.7 L281.9 503.9 L282.4 503.2 L282.9 502.6 L283.4 502.0 L283.9 501.6 L284.4 501.4 L284.9 501.2 L285.4 501.2 L285.9 501.4 L286.4 501.6 L286.9 502.1 L287.4 502.6 L287.9 503.2 L288.4 503.9 L288.9 504.7 L289.4 505.6 L289.9 506.4 L290.4 507.3 L290.9 508.1 L291.4 508.9 L291.9 509.7 L292.4 510.3 L292.9 510.9 L293.4 511.3 L293.9 511.6 L294.4 511.8 L294.9 511.8 L295.4 511.7 L295.9 511.4 L296.4 511.0 L296.9 510.5 L297.4 509.9 L297.9 509.2 L298.4 508.4 L298.9 507.6 L299.4 506.7 L299.9 505.8 L300.4 505.0 L300.9 504.2 L301.4 503.4 L301.9 502.8 L302.4 502.2 L302.9 501.8 L303.4 501.4 L303.9 501.2 L304.4 501.2 L304.9 501.3 L305.4 501.5 L305.9 501.9 L306.4 502.4 L306.9 503.0 L307.4 503.7 L307.9 504.5 L308.4 505.3 L308.9 506.2 L309.4 507.0 L309.9 507.9 L310.4 508.7 L310.9 509.5 L311.4 510.1 L311.9 510.7 L312.4 511.2 L312.9 511.5 L313.4 511.7 L313.9 511.8 L314.5 511.7 L315.0 511.5 L315.5 511.2 L316.0 510.7 L316.5 510.1 L317.0 509.4 L317.5 508.7 L318.0 507.8 L318.5 507.0 L319.0 506.1 L319.5 505.3 L320.0 504.4 L320.5 503.7 L321.0 503.0 L321.5 502.4 L322.0 501.9 L322.5 501.5 L323.0 501.3 L323.5 501.2 L324.0 501.3 L324.5 501.4 L325.0 501.8 L325.5 502.2 L326.0 502.8 L326.5 503.5 L327.0 504.2 L327.5 505.0 L328.0 505.9 L328.5 506.7 L329.0 507.6 L329.5 508.4 L330.0 509.2 L330.5 509.9 L331.0 510.5 L331.5 511.0 L332.0 511.4 L332.5 511.7 L333.0 511.8 L333.5 511.8 L334.0 511.6 L334.5 511.3 L335.0 510.9 L335.5 510.3 L336.0 509.7 L336.5 508.9 L337.0 508.1 L337.5 507.3 L338.0 506.4 L338.5 505.5 L339.0 504.7 L339.5 503.9 L340.0 503.2 L340.5 502.6 L341.0 502.0 L341.5 501.6 L342.0 501.4 L342.5 501.2 L343.0 501.2 L343.5 501.4 L344.0 501.6 L344.5 502.1 L345.0 502.6 L345.5 503.2 L346.0 504.0 L346.5 504.8 L347.0 505.6 L347.5 506.5 L348.0 507.3 L348.5 508.2 L349.0 509.0 L349.5 509.7 L350.0 510.3 L350.5 510.9 L351.0 511.3 L351.5 511.6 L352.0 511.8 L352.5 511.8 L353.0 511.7 L353.5 511.4 L354.0 511.0 L354.5 510.5 L355.0 509.9 L355.5 509.2 L356.0 508.4 L356.5 507.5 L357.0 506.7 L357.5 505.8 L358.0 505.0 L358.5 504.2 L359.0 503.4 L359.5 502.8 L360.0 502.2 L360.5 501.7 L361.0 501.4 L361.5 501.2 L362.0 501.2 L362.5 501.3 L363.0 501.5 L363.5 501.9 L364.0 502.4 L364.5 503.0 L365.0 503.7 L365.5 504.5 L366.0 505.3 L366.5 506.2 L367.0 507.0 L367.5 507.9 L368.0 508.7 L368.5 509.5 L369.0 510.1 L369.5 510.7 L370.0 511.2 L370.5 511.5 L371.0 511.7 L371.5 511.8" fill="none" stroke="#b0303a" stroke-width="1.5"/>
<path d="M218.7 541.5 L219.2 541.6 L219.7 541.8 L220.2 542.2 L220.7 542.6 L221.2 543.2 L221.7 544.0 L222.2 544.7 L222.7 545.6 L223.2 546.5 L223.7 547.4 L224.2 548.3 L224.7 549.1 L225.2 549.9 L225.7 550.6 L226.2 551.3 L226.7 551.8 L227.2 552.2 L227.7 552.4 L228.2 552.5 L228.7 552.4 L229.2 552.3 L229.7 551.9 L230.2 551.4 L230.7 550.9 L231.2 550.2 L231.7 549.4 L232.2 548.6 L232.7 547.7 L233.2 546.8 L233.7 545.9 L234.2 545.0 L234.7 544.2 L235.2 543.5 L235.7 542.8 L236.2 542.3 L236.7 541.9 L237.2 541.6 L237.7 541.5 L238.2 541.5 L238.7 541.7 L239.2 542.0 L239.7 542.5 L240.2 543.0 L240.7 543.7 L241.2 544.5 L241.7 545.3 L242.2 546.2 L242.7 547.1 L243.2 548.0 L243.7 548.8 L244.2 549.7 L244.7 550.4 L245.2 551.1 L245.7 551.6 L246.2 552.0 L246.7 552.3 L247.2 552.5 L247.7 552.5 L248.2 552.3 L248.7 552.0 L249.2 551.6 L249.7 551.1 L250.2 550.4 L250.7 549.7 L251.2 548.8 L251.7 548.0 L252.2 547.1 L252.7 546.2 L253.2 545.3 L253.7 544.5 L254.2 543.7 L254.7 543.0 L255.2 542.5 L255.7 542.0 L256.2 541.7 L256.7 541.5 L257.2 541.5 L257.7 541.6 L258.2 541.9 L258.7 542.3 L259.2 542.8 L259.7 543.5 L260.2 544.2 L260.7 545.0 L261.2 545.9 L261.7 546.8 L262.2 547.7 L262.7 548.6 L263.2 549.4 L263.7 550.2 L264.2 550.9 L264.7 551.5 L265.2 551.9 L265.7 552.3 L266.2 552.5 L266.7 552.5 L267.2 552.4 L267.7 552.2 L268.2 551.8 L268.7 551.3 L269.2 550.6 L269.7 549.9 L270.2 549.1 L270.7 548.2 L271.2 547.4 L271.7 546.5 L272.2 545.6 L272.7 544.7 L273.2 543.9 L273.7 543.2 L274.2 542.6 L274.7 542.1 L275.2 541.8 L275.7 541.6 L276.2 541.5 L276.8 541.6 L277.3 541.8 L277.8 542.2 L278.3 542.7 L278.8 543.3 L279.3 544.0 L279.8 544.8 L280.3 545.6 L280.8 546.5 L281.3 547.4 L281.8 548.3 L282.3 549.1 L282.8 549.9 L283.3 550.7 L283.8 551.3 L284.3 551.8 L284.8 552.2 L285.3 552.4 L285.8 552.5 L286.3 552.4 L286.8 552.2 L287.3 551.9 L287.8 551.4 L288.3 550.8 L288.8 550.2 L289.3 549.4 L289.8 548.5 L290.3 547.7 L290.8 546.8 L291.3 545.9 L291.8 545.0 L292.3 544.2 L292.8 543.5 L293.3 542.8 L293.8 542.3 L294.3 541.9 L294.8 541.6 L295.3 541.5 L295.8 541.5 L296.3 541.7 L296.8 542.0 L297.3 542.5 L297.8 543.0 L298.3 543.7 L298.8 544.5 L299.3 545.3 L299.8 546.2 L300.3 547.1 L300.8 548.0 L301.3 548.9 L301.8 549.7 L302.3 550.4 L302.8 551.1 L303.3 551.6 L303.8 552.1 L304.3 552.3 L304.8 552.5 L305.3 552.5 L305.8 552.3 L306.3 552.0 L306.8 551.6 L307.3 551.1 L307.8 550.4 L308.3 549.6 L308.8 548.8 L309.3 547.9 L309.8 547.0 L310.3 546.1 L310.8 545.3 L311.3 544.4 L311.8 543.7 L312.3 543.0 L312.8 542.4 L313.3 542.0 L313.8 541.7 L314.3 541.5 L314.8 541.5 L315.3 541.6 L315.8 541.9 L316.3 542.3 L316.8 542.9 L317.3 543.5 L317.8 544.2 L318.3 545.0 L318.8 545.9 L319.3 546.8 L319.8 547.7 L320.3 548.6 L320.8 549.4 L321.3 550.2 L321.8 550.9 L322.3 551.5 L322.8 551.9 L323.3 552.3 L323.8 552.5 L324.3 552.5 L324.8 552.4 L325.3 552.1 L325.8 551.8 L326.3 551.2 L326.8 550.6 L327.3 549.9 L327.8 549.1 L328.3 548.2 L328.8 547.3 L329.3 546.4 L329.8 545.6 L330.3 544.7 L330.8 543.9 L331.3 543.2 L331.8 542.6 L332.3 542.1 L332.8 541.8 L333.3 541.6 L333.8 541.5" fill="none" stroke="#3a7ca5" stroke-width="1.5"/><path d="M218.7 552.5 L219.2 552.4 L219.7 552.2 L220.2 551.8 L220.7 551.4 L221.2 550.8 L221.7 550.0 L222.2 549.3 L222.7 548.4 L223.2 547.5 L223.7 546.6 L224.2 545.7 L224.7 544.9 L225.2 544.1 L225.7 543.4 L226.2 542.7 L226.7 542.2 L227.2 541.8 L227.7 541.6 L228.2 541.5 L228.7 541.6 L229.2 541.7 L229.7 542.1 L230.2 542.6 L230.7 543.1 L231.2 543.8 L231.7 544.6 L232.2 545.4 L232.7 546.3 L233.2 547.2 L233.7 548.1 L234.2 549.0 L234.7 549.8 L235.2 550.5 L235.7 551.2 L236.2 551.7 L236.7 552.1 L237.2 552.4 L237.7 552.5 L238.2 552.5 L238.7 552.3 L239.2 552.0 L239.7 551.5 L240.2 551.0 L240.7 550.3 L241.2 549.5 L241.7 548.7 L242.2 547.8 L242.7 546.9 L243.2 546.0 L243.7 545.2 L244.2 544.3 L244.7 543.6 L245.2 542.9 L245.7 542.4 L246.2 542.0 L246.7 541.7 L247.2 541.5 L247.7 541.5 L248.2 541.7 L248.7 542.0 L249.2 542.4 L249.7 542.9 L250.2 543.6 L250.7 544.3 L251.2 545.2 L251.7 546.0 L252.2 546.9 L252.7 547.8 L253.2 548.7 L253.7 549.5 L254.2 550.3 L254.7 551.0 L255.2 551.5 L255.7 552.0 L256.2 552.3 L256.7 552.5 L257.2 552.5 L257.7 552.4 L258.2 552.1 L258.7 551.7 L259.2 551.2 L259.7 550.5 L260.2 549.8 L260.7 549.0 L261.2 548.1 L261.7 547.2 L262.2 546.3 L262.7 545.4 L263.2 544.6 L263.7 543.8 L264.2 543.1 L264.7 542.5 L265.2 542.1 L265.7 541.7 L266.2 541.5 L266.7 541.5 L267.2 541.6 L267.7 541.8 L268.2 542.2 L268.7 542.7 L269.2 543.4 L269.7 544.1 L270.2 544.9 L270.7 545.8 L271.2 546.6 L271.7 547.5 L272.2 548.4 L272.7 549.3 L273.2 550.1 L273.7 550.8 L274.2 551.4 L274.7 551.9 L275.2 552.2 L275.7 552.4 L276.2 552.5 L276.8 552.4 L277.3 552.2 L277.8 551.8 L278.3 551.3 L278.8 550.7 L279.3 550.0 L279.8 549.2 L280.3 548.4 L280.8 547.5 L281.3 546.6 L281.8 545.7 L282.3 544.9 L282.8 544.1 L283.3 543.3 L283.8 542.7 L284.3 542.2 L284.8 541.8 L285.3 541.6 L285.8 541.5 L286.3 541.6 L286.8 541.8 L287.3 542.1 L287.8 542.6 L288.3 543.2 L288.8 543.8 L289.3 544.6 L289.8 545.5 L290.3 546.3 L290.8 547.2 L291.3 548.1 L291.8 549.0 L292.3 549.8 L292.8 550.5 L293.3 551.2 L293.8 551.7 L294.3 552.1 L294.8 552.4 L295.3 552.5 L295.8 552.5 L296.3 552.3 L296.8 552.0 L297.3 551.5 L297.8 551.0 L298.3 550.3 L298.8 549.5 L299.3 548.7 L299.8 547.8 L300.3 546.9 L300.8 546.0 L301.3 545.1 L301.8 544.3 L302.3 543.6 L302.8 542.9 L303.3 542.4 L303.8 541.9 L304.3 541.7 L304.8 541.5 L305.3 541.5 L305.8 541.7 L306.3 542.0 L306.8 542.4 L307.3 542.9 L307.8 543.6 L308.3 544.4 L308.8 545.2 L309.3 546.1 L309.8 547.0 L310.3 547.9 L310.8 548.7 L311.3 549.6 L311.8 550.3 L312.3 551.0 L312.8 551.6 L313.3 552.0 L313.8 552.3 L314.3 552.5 L314.8 552.5 L315.3 552.4 L315.8 552.1 L316.3 551.7 L316.8 551.1 L317.3 550.5 L317.8 549.8 L318.3 549.0 L318.8 548.1 L319.3 547.2 L319.8 546.3 L320.3 545.4 L320.8 544.6 L321.3 543.8 L321.8 543.1 L322.3 542.5 L322.8 542.1 L323.3 541.7 L323.8 541.5 L324.3 541.5 L324.8 541.6 L325.3 541.9 L325.8 542.2 L326.3 542.8 L326.8 543.4 L327.3 544.1 L327.8 544.9 L328.3 545.8 L328.8 546.7 L329.3 547.6 L329.8 548.4 L330.3 549.3 L330.8 550.1 L331.3 550.8 L331.8 551.4 L332.3 551.9 L332.8 552.2 L333.3 552.4 L333.8 552.5" fill="none" stroke="#b0303a" stroke-width="1.5"/>
<path d="M311.3 502.5 V489.8 H359" fill="none" stroke="#000" stroke-width="2.6" stroke-linejoin="miter"/>
<path d="M357.5 485.8 L364.8 489.8 L357.5 493.8 Z" fill="#000"/>
<path d="M231.6 543 V531.4 H269" fill="none" stroke="#000" stroke-width="2.6" stroke-linejoin="miter"/>
<path d="M268 527.4 L275.3 531.4 L268 535.4 Z" fill="#000"/>
<path d="M236.2 517.4 L265.4 549.2 M265 517.8 L235.6 549.6" stroke="#ff0000" stroke-width="2.1" fill="none"/>
<g font-family="'Liberation Sans', sans-serif" font-size="16.45" fill="#000">
<text x="370.2" y="486">UPR</text><text x="370.2" y="500.6">myokines</text>
<text x="281.4" y="537.8">AA and 1C metabolism</text>
</g>
<g font-family="'Liberation Sans', sans-serif" font-weight="bold" font-size="21.5" fill="#000">
<text x="440.2" y="611.4" font-size="22">Local</text>
<text x="676.3" y="611.4" font-size="21.9">Systemic</text>
<text x="646.8" y="253.8" font-size="21.9">Antidietary obesity</text>
</g>
<path d="M458.7 468.9 C544.1 481.1 626.4 413.7 659.6 388.2" fill="none" stroke="#000" stroke-width="2"/>
<path d="M663 385 L653.6 385.5 L659.4 388.5 L661.6 394.6 Z" fill="#000"/>
<g font-family="'Liberation Sans', sans-serif" font-size="19" fill="#000">
<text transform="translate(495.5 420.3) rotate(-20.3)">Long-range</text>
<text transform="translate(473.6 453) rotate(-20.8)">protective response</text>
</g>
<g><path d="M650.1 359.9 C650.1 345.8 656.7 339.1 670.8 339.1 C684.9 339.1 691.5 345.8 691.5 359.9 C691.5 374.0 684.9 380.7 670.8 380.7 C656.7 380.7 650.1 374.0 650.1 359.9 Z" fill="#fff5c8" stroke="#454545" stroke-width="1.1"/><path d="M653.3 359.9 C653.3 348.1 658.9 342.5 670.8 342.5 C682.7 342.5 688.3 348.1 688.3 359.9 C688.3 371.7 682.7 377.3 670.8 377.3 C658.9 377.3 653.3 371.7 653.3 359.9 Z" fill="#fffbdc" transform="translate(0.6 -0.4)"/><path d="M657.1 374.5 C666.7 378.6 679.1 378.2 686.9 369.9 C679.1 375.3 666.7 376.1 657.1 374.5 Z" fill="#f8a91c" stroke="#fcc850" stroke-width="0.6" stroke-linejoin="round"/><path d="M655.1 349.5 C651.3 356.8 651.8 364.1 654.2 368.6 C654.2 363.0 654.2 357.8 655.1 349.5 Z" fill="#f59a1c" stroke="#f7a52a" stroke-width="0.8" stroke-linejoin="round"/></g>
<g><path d="M673.1 378.3 C673.1 364.2 679.7 357.5 693.8 357.5 C707.9 357.5 714.5 364.2 714.5 378.3 C714.5 392.4 707.9 399.1 693.8 399.1 C679.7 399.1 673.1 392.4 673.1 378.3 Z" fill="#fff5c8" stroke="#454545" stroke-width="1.1"/><path d="M676.3 378.3 C676.3 366.5 681.9 360.9 693.8 360.9 C705.7 360.9 711.3 366.5 711.3 378.3 C711.3 390.1 705.7 395.7 693.8 395.7 C681.9 395.7 676.3 390.1 676.3 378.3 Z" fill="#fffbdc" transform="translate(0.6 -0.4)"/><path d="M680.1 392.9 C689.7 397.0 702.1 396.6 709.9 388.3 C702.1 393.7 689.7 394.5 680.1 392.9 Z" fill="#f8a91c" stroke="#fcc850" stroke-width="0.6" stroke-linejoin="round"/><path d="M678.1 367.9 C674.3 375.2 674.8 382.5 677.2 387.0 C677.2 381.4 677.2 376.2 678.1 367.9 Z" fill="#f59a1c" stroke="#f7a52a" stroke-width="0.8" stroke-linejoin="round"/></g>
<g><path d="M679.4 333.2 C679.4 319.1 686.0 312.4 700.1 312.4 C714.2 312.4 720.8 319.1 720.8 333.2 C720.8 347.3 714.2 354.0 700.1 354.0 C686.0 354.0 679.4 347.3 679.4 333.2 Z" fill="#fff5c8" stroke="#454545" stroke-width="1.1"/><path d="M682.6 333.2 C682.6 321.4 688.2 315.8 700.1 315.8 C712.0 315.8 717.6 321.4 717.6 333.2 C717.6 345.0 712.0 350.6 700.1 350.6 C688.2 350.6 682.6 345.0 682.6 333.2 Z" fill="#fffbdc" transform="translate(0.6 -0.4)"/><path d="M686.4 347.8 C696.0 351.9 708.4 351.5 716.2 343.2 C708.4 348.6 696.0 349.4 686.4 347.8 Z" fill="#f8a91c" stroke="#fcc850" stroke-width="0.6" stroke-linejoin="round"/><path d="M684.4 322.8 C680.6 330.1 681.1 337.4 683.5 341.9 C683.5 336.3 683.5 331.1 684.4 322.8 Z" fill="#f59a1c" stroke="#f7a52a" stroke-width="0.8" stroke-linejoin="round"/></g>
<g><path d="M640.3 316.8 C640.3 302.7 646.9 296.0 661.0 296.0 C675.1 296.0 681.7 302.7 681.7 316.8 C681.7 330.9 675.1 337.6 661.0 337.6 C646.9 337.6 640.3 330.9 640.3 316.8 Z" fill="#fff5c8" stroke="#454545" stroke-width="1.1"/><path d="M643.5 316.8 C643.5 305.0 649.1 299.4 661.0 299.4 C672.9 299.4 678.5 305.0 678.5 316.8 C678.5 328.6 672.9 334.2 661.0 334.2 C649.1 334.2 643.5 328.6 643.5 316.8 Z" fill="#fffbdc" transform="translate(0.6 -0.4)"/><path d="M647.3 331.4 C656.9 335.5 669.3 335.1 677.1 326.8 C669.3 332.2 656.9 333.0 647.3 331.4 Z" fill="#f8a91c" stroke="#fcc850" stroke-width="0.6" stroke-linejoin="round"/><path d="M645.3 306.4 C641.5 313.7 642.0 321.0 644.4 325.5 C644.4 319.9 644.4 314.7 645.3 306.4 Z" fill="#f59a1c" stroke="#f7a52a" stroke-width="0.8" stroke-linejoin="round"/></g>
<g><path d="M678.8 290.3 C678.8 276.2 685.4 269.5 699.5 269.5 C713.6 269.5 720.2 276.2 720.2 290.3 C720.2 304.4 713.6 311.1 699.5 311.1 C685.4 311.1 678.8 304.4 678.8 290.3 Z" fill="#fff5c8" stroke="#454545" stroke-width="1.1"/><path d="M682.0 290.3 C682.0 278.5 687.6 272.9 699.5 272.9 C711.4 272.9 717.0 278.5 717.0 290.3 C717.0 302.1 711.4 307.7 699.5 307.7 C687.6 307.7 682.0 302.1 682.0 290.3 Z" fill="#fffbdc" transform="translate(0.6 -0.4)"/><path d="M685.8 304.9 C695.4 309.0 707.8 308.6 715.6 300.3 C707.8 305.7 695.4 306.5 685.8 304.9 Z" fill="#f8a91c" stroke="#fcc850" stroke-width="0.6" stroke-linejoin="round"/><path d="M683.8 279.9 C680.0 287.2 680.5 294.5 682.9 299.0 C682.9 293.4 682.9 288.2 683.8 279.9 Z" fill="#f59a1c" stroke="#f7a52a" stroke-width="0.8" stroke-linejoin="round"/></g>
<g><path d="M716.1 318.7 C716.1 304.6 722.7 297.9 736.8 297.9 C750.9 297.9 757.5 304.6 757.5 318.7 C757.5 332.8 750.9 339.5 736.8 339.5 C722.7 339.5 716.1 332.8 716.1 318.7 Z" fill="#fff5c8" stroke="#454545" stroke-width="1.1"/><path d="M719.3 318.7 C719.3 306.9 724.9 301.3 736.8 301.3 C748.7 301.3 754.3 306.9 754.3 318.7 C754.3 330.5 748.7 336.1 736.8 336.1 C724.9 336.1 719.3 330.5 719.3 318.7 Z" fill="#fffbdc" transform="translate(0.6 -0.4)"/><path d="M723.1 333.3 C732.7 337.4 745.1 337.0 752.9 328.7 C745.1 334.1 732.7 334.9 723.1 333.3 Z" fill="#f8a91c" stroke="#fcc850" stroke-width="0.6" stroke-linejoin="round"/><path d="M721.1 308.3 C717.3 315.6 717.8 322.9 720.2 327.4 C720.2 321.8 720.2 316.6 721.1 308.3 Z" fill="#f59a1c" stroke="#f7a52a" stroke-width="0.8" stroke-linejoin="round"/></g>
<g><path d="M699.7 359.9 C699.7 345.8 706.3 339.1 720.4 339.1 C734.5 339.1 741.1 345.8 741.1 359.9 C741.1 374.0 734.5 380.7 720.4 380.7 C706.3 380.7 699.7 374.0 699.7 359.9 Z" fill="#fff5c8" stroke="#454545" stroke-width="1.1"/><path d="M702.9 359.9 C702.9 348.1 708.5 342.5 720.4 342.5 C732.3 342.5 737.9 348.1 737.9 359.9 C737.9 371.7 732.3 377.3 720.4 377.3 C708.5 377.3 702.9 371.7 702.9 359.9 Z" fill="#fffbdc" transform="translate(0.6 -0.4)"/><path d="M706.7 374.5 C716.3 378.6 728.7 378.2 736.5 369.9 C728.7 375.3 716.3 376.1 706.7 374.5 Z" fill="#f8a91c" stroke="#fcc850" stroke-width="0.6" stroke-linejoin="round"/><path d="M704.7 349.5 C700.9 356.8 701.4 364.1 703.8 368.6 C703.8 363.0 703.8 357.8 704.7 349.5 Z" fill="#f59a1c" stroke="#f7a52a" stroke-width="0.8" stroke-linejoin="round"/></g>
<path d="M777.2 310.4 V292.40000000000003" stroke="#000" stroke-width="2.3" fill="none"/><path d="M772.3000000000001 297.90000000000003 L777.2 291.6 L782.1 297.90000000000003" stroke="#000" stroke-width="2.3" fill="none" stroke-linejoin="miter"/>
<path d="M777.2 340.4 V322.40000000000003" stroke="#000" stroke-width="2.3" fill="none"/><path d="M772.3000000000001 327.90000000000003 L777.2 321.6 L782.1 327.90000000000003" stroke="#000" stroke-width="2.3" fill="none" stroke-linejoin="miter"/>
<path d="M777.2 349.4 V368.0" stroke="#000" stroke-width="2.3" fill="none"/><path d="M772.3000000000001 362.5 L777.2 368.8 L782.1 362.5" stroke="#000" stroke-width="2.3" fill="none" stroke-linejoin="miter"/>
<g font-family="'Liberation Sans', sans-serif" font-size="16.3" fill="#000">
<text x="788" y="306.4">UPR<tspan font-size="10.6" dy="-6.4">mt</tspan></text>
<text x="788" y="336.1">Thermogenesis</text>
<text x="788" y="365.9">Inflammation</text>
<text x="787.4" y="459.9">Fatty liver</text>
</g>
<path d="M777.7 446.0 V464.2" stroke="#000" stroke-width="2.3" fill="none"/><path d="M772.8000000000001 458.7 L777.7 465.0 L782.6 458.7" stroke="#000" stroke-width="2.3" fill="none" stroke-linejoin="miter"/>
<g id="liver">
<clipPath id="clL"><path d="M673 417.4 C682 414.8 695 414 706 414.4 C713 425 718.4 446 717.8 462 C716.4 471 712 477 705 482 C694 490 684 499 677.4 509 C674 515.4 669.6 520.6 665.4 520.6 C657.6 519.8 650.4 510 646.8 497 C642.6 480 643 460 647.4 444 C652 430 661 421.6 673 417.4 Z"/></clipPath>
<clipPath id="clR"><path d="M721 417.2 C735 414 756 414.2 769.4 417.8 C776.8 420.2 777.6 424.6 773.4 431 C766.4 441.4 752 456 738 465 C733 468.2 728 469.8 723.5 470.2 C719.6 458 716.6 437 721 417.2 Z"/></clipPath>
<path d="M699.4 403 C699.2 401.4 712.2 401.4 712 403 L712.8 414.4 L698.8 414.4 Z" fill="#2f8da2"/>
<path d="M700.6 403 L702.6 414 L698.8 414.4 Z" fill="#55b3c4" opacity="0.7"/>
<path d="M721 417.2 C735 414 756 414.2 769.4 417.8 C776.8 420.2 777.6 424.6 773.4 431 C766.4 441.4 752 456 738 465 C733 468.2 728 469.8 723.5 470.2 C719.6 458 716.6 437 721 417.2 Z" fill="#7e1420"/>
<g clip-path="url(#clR)">
<ellipse cx="744" cy="433" rx="31" ry="17" transform="rotate(-32 744 433)" fill="#cc3544" filter="url(#blur3)"/>
<ellipse cx="749" cy="427" rx="18" ry="8" transform="rotate(-20 749 427)" fill="#e04c5a" filter="url(#blur3)"/>
<path d="M733 423.4 C744 420.6 757 420.8 765 423" fill="none" stroke="#f0969e" stroke-width="4" stroke-linecap="round" filter="url(#blur2b)"/>
</g>
<path d="M673 417.4 C682 414.8 695 414 706 414.4 C713 425 718.4 446 717.8 462 C716.4 471 712 477 705 482 C694 490 684 499 677.4 509 C674 515.4 669.6 520.6 665.4 520.6 C657.6 519.8 650.4 510 646.8 497 C642.6 480 643 460 647.4 444 C652 430 661 421.6 673 417.4 Z" fill="#821622"/>
<g clip-path="url(#clL)">
<ellipse cx="680" cy="462" rx="30" ry="50" transform="rotate(18 680 462)" fill="#cf3644" filter="url(#blur3)"/>
<ellipse cx="685" cy="458" rx="17" ry="30" transform="rotate(18 685 458)" fill="#e65260" filter="url(#blur3)"/>
<path d="M657.6 474 C655.6 456 658.6 441 665 431" fill="none" stroke="#f3a8ae" stroke-width="4.2" stroke-linecap="round" filter="url(#blur2b)"/>
</g>
<path d="M674 417.2 C690 414.6 735 413.6 756 415" fill="none" stroke="#b59a5e" stroke-width="1.2" stroke-linecap="round"/>
<path d="M686 416 C697 414.4 712 414.4 723.6 415.6 C721.6 418.6 720.2 421.4 719.9 424.6 C719.2 431 719.2 438 719.6 444.3 C720 450 720.8 455 721.8 460.1 C722.8 465.6 724 471 724.9 475.6 C725.6 478.6 723.4 480 722 478 C720.8 476.4 720.4 475.2 719.9 473.9 C718.6 467.4 717.8 461 716.9 454.2 C716.2 448.6 715.2 443.2 713.9 438.4 C712.6 433.8 710.8 429.8 708 426.6 C705.2 423.4 702 421.4 698.2 419.7 C694.6 418.2 690.6 417 686 416 Z" fill="url(#glig)"/>
<path d="M677 501.4 C678 497.6 682.4 495.2 686.6 493.4 C689.4 492 692.4 490 694.4 488.6 C695.6 489.6 694.6 491.6 692.6 493.6 C689.8 496.6 689.6 501.6 687.6 505 C685.6 507.8 680.6 508 678.2 505.8 C676.8 504.6 676.6 502.8 677 501.4 Z" fill="url(#ggall)"/>
<path d="M687.4 494.8 C689.8 493.2 692 491.4 694 489.6" fill="none" stroke="#2c6e10" stroke-width="1.3" stroke-linecap="round" opacity="0.8"/>
</g>
<g font-family="'Liberation Sans', sans-serif" font-weight="bold" font-size="20" fill="#000">
<text transform="translate(-1.90 665.8) scale(0.9528 1)">ial</text>
<text transform="translate(23.00 665.8) scale(0.9223 1)">proteostasis</text>
<text transform="translate(136.00 665.8) scale(0.8636 1)">stress</text>
<text transform="translate(191.50 665.8) scale(0.9448 1)">in</text>
<text transform="translate(212.80 665.8) scale(0.9415 1)">skeletal</text>
<text transform="translate(287.00 665.8) scale(0.8994 1)">muscle</text>
<text transform="translate(353.30 665.8) scale(0.9178 1)">directs</text>
<text transform="translate(418.60 665.8) scale(0.9438 1)">a</text>
<text transform="translate(432.80 665.8) scale(0.9618 1)">long-range</text>
<text transform="translate(536.50 665.8) scale(0.9490 1)">metabolic</text>
<text transform="translate(629.60 665.8) scale(0.9074 1)">response</text>
<text transform="translate(714.60 665.8) scale(0.9370 1)">to</text>
<text transform="translate(737.30 665.8) scale(0.9803 1)">alleviate</text>
<text transform="translate(819.10 665.8) scale(0.9772 1)">dietary</text>
<text transform="translate(887.50 665.8) scale(0.9267 1)">obesity</text>
<text transform="translate(956.80 665.8) scale(0.9617 1)">indep</text>
</g>
<g font-family="'Liberation Sans', sans-serif" font-size="20" fill="#000">
<text transform="translate(3.40 691.6) scale(0.9518 1)">mice</text>
<text transform="translate(48.00 691.6) scale(0.9288 1)">at</text>
<text transform="translate(67.90 691.6) scale(1.0800 1)">the</text>
<text transform="translate(102.40 691.6) scale(0.9468 1)">age</text>
<text transform="translate(138.40 691.6) scale(1.0367 1)">of</text>
<text transform="translate(160.10 691.6) scale(1.0800 1)">6</text>
<text transform="translate(178.00 691.6) scale(0.8305 1)">weeks.</text>
<text transform="translate(234.10 691.6) scale(1.0247 1)" font-style="italic">n</text>
<text transform="translate(249.90 691.6) scale(0.9326 1)">=</text>
<text transform="translate(265.20 691.6) scale(0.8809 1)">7</text>
<text transform="translate(279.40 691.6) scale(1.0800 1)">to</text>
<text transform="translate(302.40 691.6) scale(0.9564 1)">14.</text>
<text transform="translate(333.40 691.6) scale(0.9443 1)">(</text>
<text transform="translate(338.70 691.6) scale(0.8787 1)" font-weight="bold">B</text>
<text transform="translate(350.40 691.6) scale(0.9892 1)">)</text>
<text transform="translate(361.40 691.6) scale(0.8890 1)">Increase</text>
<text transform="translate(434.00 691.6) scale(1.0800 1)">in</text>
<text transform="translate(455.60 691.6) scale(0.9775 1)">body</text>
<text transform="translate(502.40 691.6) scale(1.0430 1)">weight</text>
<text transform="translate(567.10 691.6) scale(1.0048 1)">following</text>
<text transform="translate(649.70 691.6) scale(0.8976 1)">HFD</text>
<text transform="translate(691.00 691.6) scale(0.9892 1)">feeding.</text>
<text transform="translate(765.80 691.6) scale(1.0067 1)" font-style="italic">n</text>
<text transform="translate(781.40 691.6) scale(0.8000 1)">=</text>
<text transform="translate(792.90 691.6) scale(0.9978 1)">7</text>
<text transform="translate(808.40 691.6) scale(1.0800 1)">to</text>
<text transform="translate(831.60 691.6) scale(0.9025 1)">14.</text>
<text transform="translate(861.10 691.6) scale(0.9443 1)">(</text>
<text transform="translate(866.40 691.6) scale(0.8995 1)" font-weight="bold">C</text>
<text transform="translate(878.40 691.6) scale(0.9892 1)">)</text>
<text transform="translate(889.40 691.6) scale(0.8851 1)">H&amp;E</text>
<text transform="translate(930.20 691.6) scale(1.0125 1)">staining</text>
<text transform="translate(1004.40 691.6) scale(0.9000 1)">o</text>
</g>
</svg>
</body></html>
